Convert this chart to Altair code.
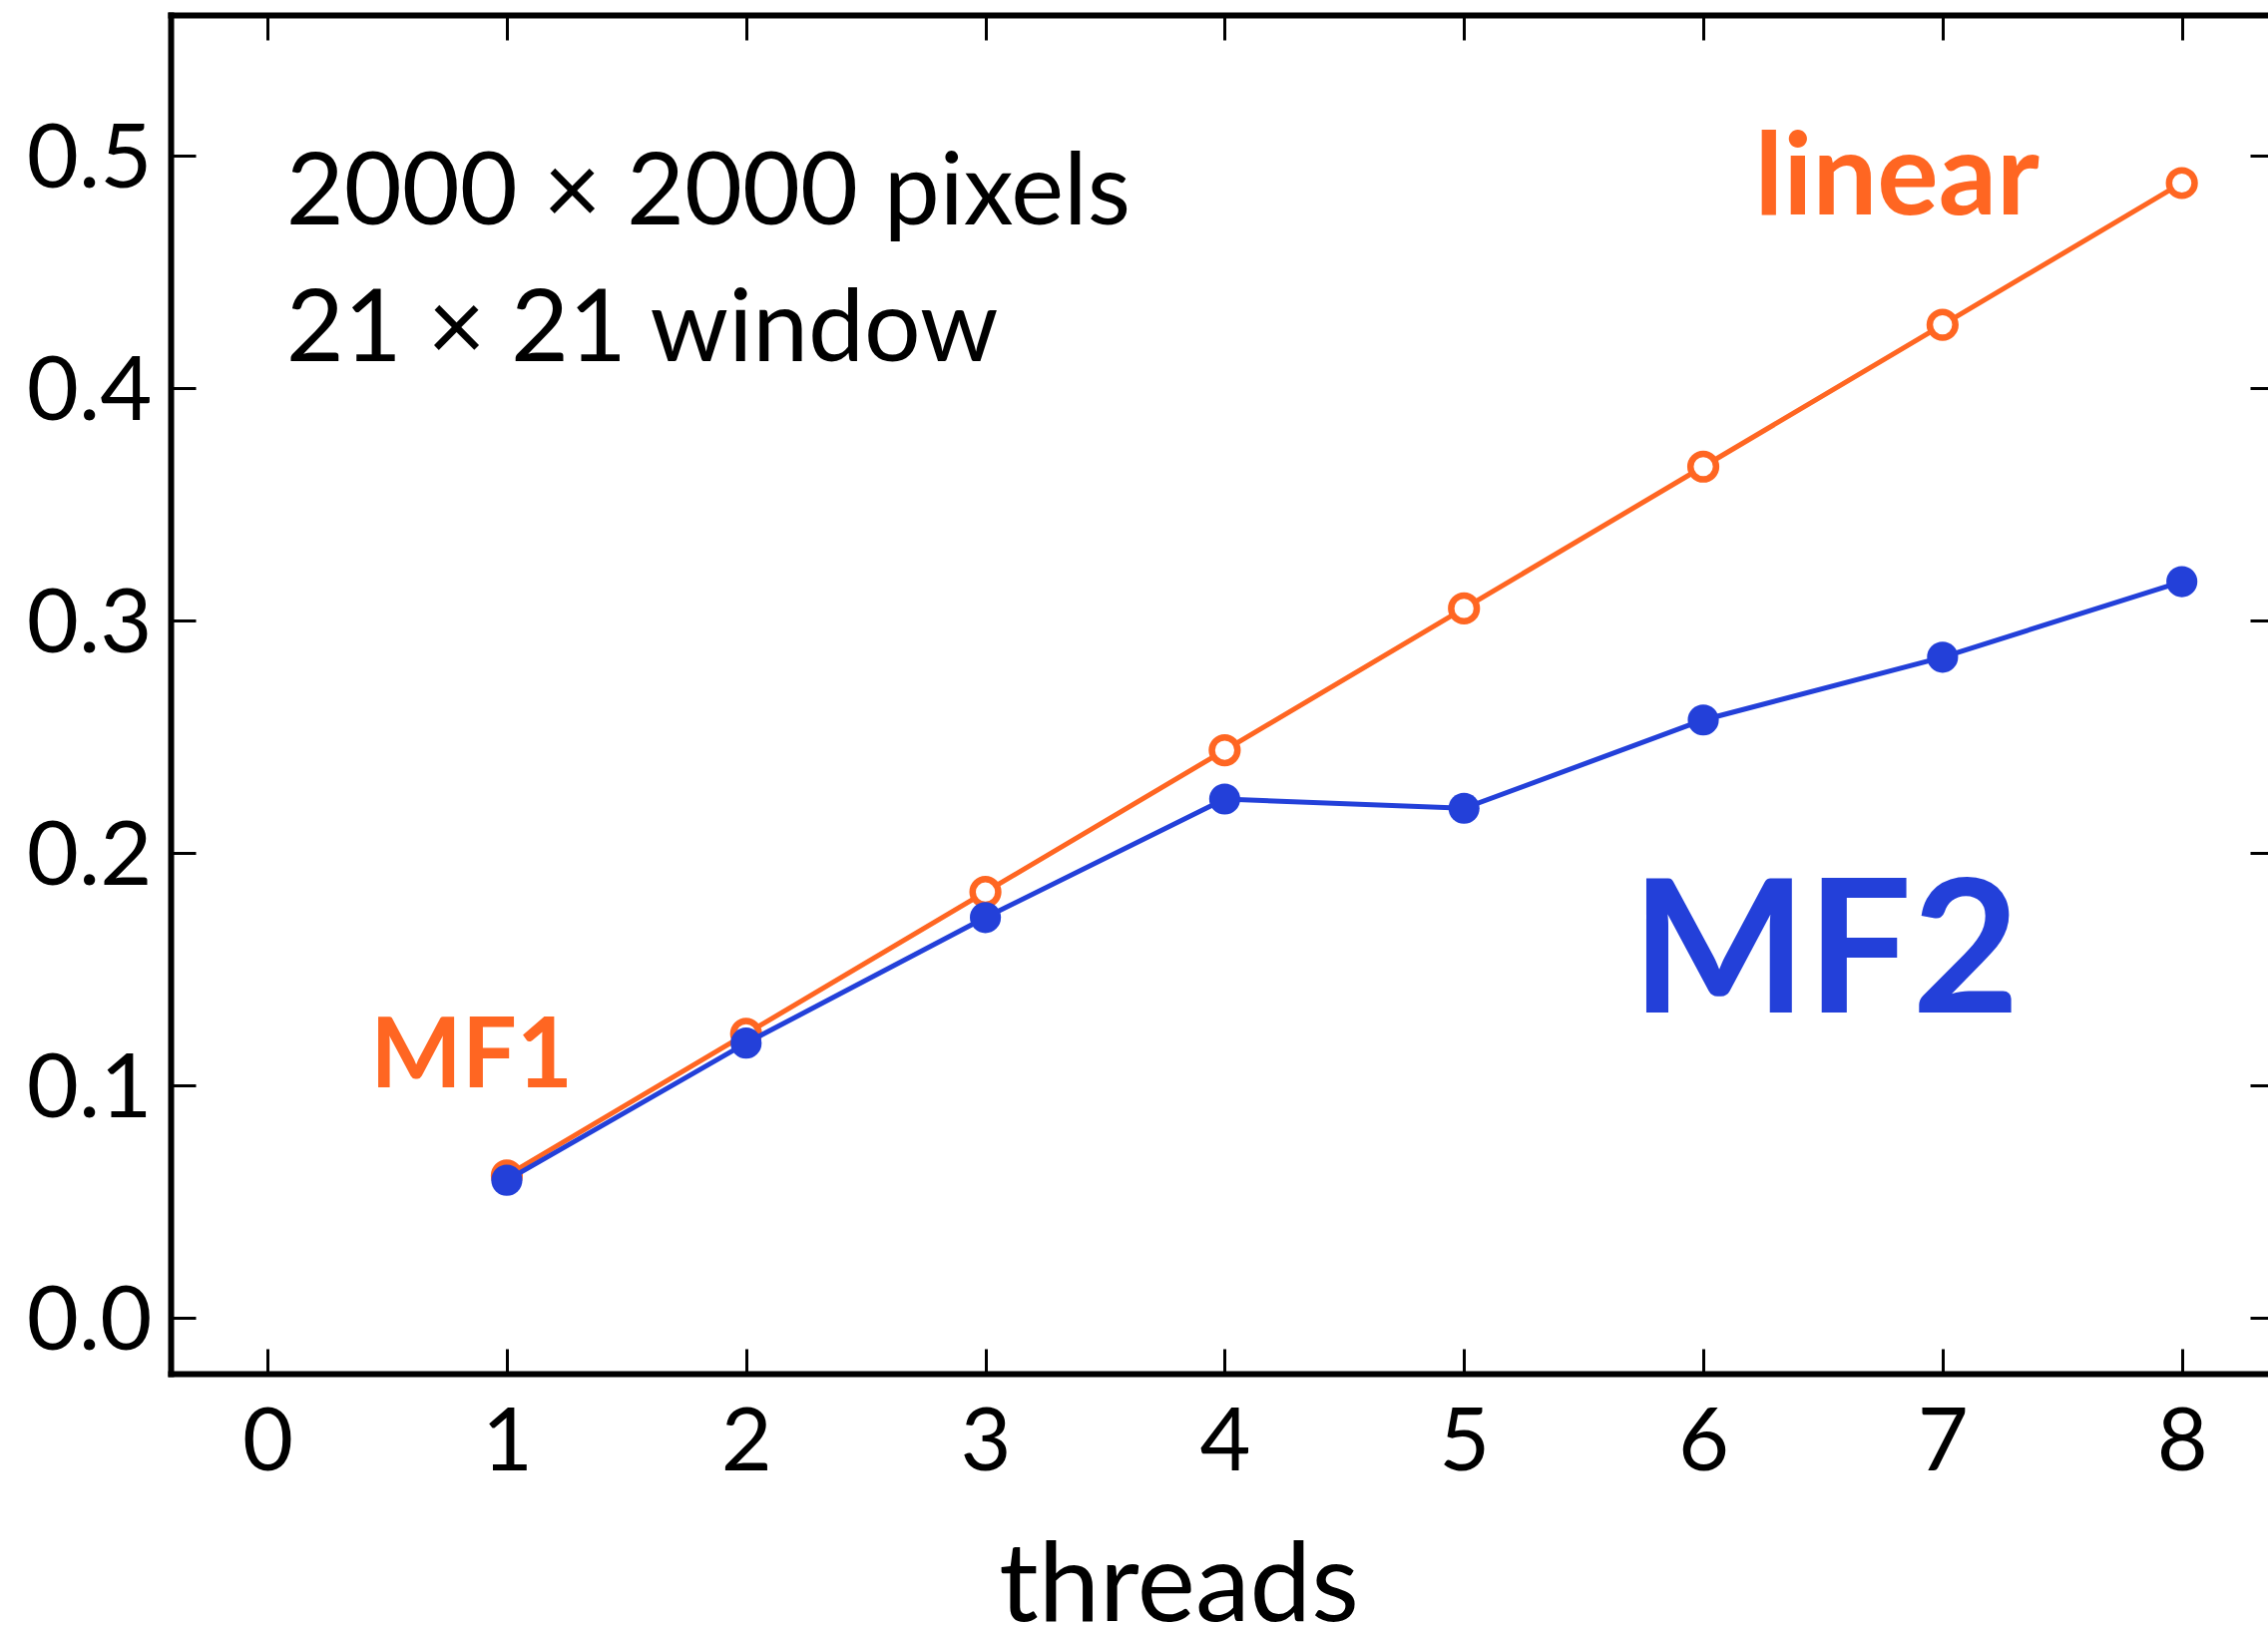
import altair as alt
import pandas as pd

# ---- data ----
threads = [1, 2, 3, 4, 5, 6, 7, 8]
linear_vals = [0.061, 0.122, 0.183, 0.244, 0.305, 0.366, 0.427, 0.488]
mf2_vals = [0.059, 0.118, 0.172, 0.223, 0.219, 0.257, 0.284, 0.3165]

x_ticks = [0, 1, 2, 3, 4, 5, 6, 7, 8]
y_ticks = [0.0, 0.1, 0.2, 0.3, 0.4, 0.5]

note_text = ["2000 × 2000 pixels", "21 × 21 window"]
note_x = [0.078, 0.078]
note_y = [0.470, 0.4112]

label_text = ["linear", "MF1", "MF2"]
label_x = [6.215, 0.43, 5.70]
label_y = [0.4745, 0.0989, 0.1311]

ORANGE = "#FF6622"
BLUE = "#2340D9"
FONT = "Lato"
label_color = [ORANGE, ORANGE, BLUE]
label_size = [115, 97, 186]

W, H = 2102, 1362
x_dom = [-0.405, 8.36]
y_dom = [-0.0242, 0.5603]

lin_df = pd.DataFrame({"threads": threads, "time": linear_vals})
mf2_df = pd.DataFrame({"threads": threads, "time": mf2_vals})
note_df = pd.DataFrame({"t": note_text, "x": note_x, "y": note_y})
lab_df = pd.DataFrame({"t": label_text, "x": label_x, "y": label_y,
                       "c": label_color, "s": label_size})


def xs():
    return alt.Scale(domain=x_dom, nice=False, zero=False)


def ys():
    return alt.Scale(domain=y_dom, nice=False, zero=False)


x_main = alt.Axis(orient="bottom", values=x_ticks, domain=True, domainWidth=6,
                  domainColor="black", domainCap="square", ticks=False, tickSize=0,
                  labels=True, labelFont=FONT, labelFontSize=88, labelColor="black",
                  labelPadding=26, labelFlush=False, labelOverlap=False, grid=False,
                  title="threads", titleFont=FONT, titleFontSize=110,
                  titleFontWeight="normal", titleColor="black", titleX=1010,
                  titleY=247, titleBaseline="alphabetic", titleAlign="center")
y_main = alt.Axis(orient="left", values=y_ticks, format=".1f", domain=True,
                  domainWidth=6, domainColor="black", domainCap="square",
                  ticks=False, tickSize=0, labelFont=FONT, labelFontSize=90,
                  labelColor="black", labelPadding=19, labelOffset=5,
                  labelFlush=False, labelOverlap=False, grid=False, title=None)

x_tk = alt.Axis(orient="bottom", values=x_ticks, domain=False, labels=False,
                ticks=True, tickSize=25, tickWidth=3, tickColor="black",
                offset=-25, title=None, grid=False)
y_tk = alt.Axis(orient="left", values=y_ticks, domain=False, labels=False,
                ticks=True, tickSize=25, tickWidth=3, tickColor="black",
                offset=-25, title=None, grid=False)

x_top = alt.Axis(orient="top", values=x_ticks, domain=True, domainWidth=6,
                 domainColor="black", domainCap="square", ticks=False,
                 labels=False, title=None, grid=False)
y_right = alt.Axis(orient="right", values=y_ticks, domain=False, labels=False,
                   ticks=True, tickSize=25, tickWidth=3, tickColor="black",
                   offset=-18, title=None, grid=False)

x_top_tk = alt.Axis(orient="top", values=x_ticks, domain=False, labels=False,
                    ticks=True, tickSize=25, tickWidth=3, tickColor="black",
                    offset=-25, title=None, grid=False)

# axis-carrying invisible layers
frame1 = alt.Chart(lin_df).mark_point(opacity=0).encode(
    x=alt.X("threads:Q", scale=xs(), axis=x_main),
    y=alt.Y("time:Q", scale=ys(), axis=y_main))
frame2 = alt.Chart(lin_df).mark_point(opacity=0).encode(
    x=alt.X("threads:Q", scale=xs(), axis=x_tk),
    y=alt.Y("time:Q", scale=ys(), axis=y_tk))
frame3 = alt.Chart(lin_df).mark_point(opacity=0).encode(
    x=alt.X("threads:Q", scale=xs(), axis=x_top),
    y=alt.Y("time:Q", scale=ys(), axis=y_right))
frame4 = alt.Chart(lin_df).mark_point(opacity=0).encode(
    x=alt.X("threads:Q", scale=xs(), axis=x_top_tk),
    y=alt.Y("time:Q", scale=ys(), axis=None))


def enc(ch):
    return ch.encode(
        x=alt.X("threads:Q", scale=xs(), axis=None),
        y=alt.Y("time:Q", scale=ys(), axis=None))


lin_line = enc(alt.Chart(lin_df).mark_line(color=ORANGE, strokeWidth=5))
lin_pts = enc(alt.Chart(lin_df).mark_circle(fill="white", stroke=ORANGE,
                                            strokeWidth=6.5, size=660, opacity=1))
mf2_line = enc(alt.Chart(mf2_df).mark_line(color=BLUE, strokeWidth=5))
mf2_pts = enc(alt.Chart(mf2_df).mark_circle(color=BLUE, size=970, opacity=1))

notes = alt.Chart(note_df).mark_text(font=FONT, fontSize=100, align="left",
                                     baseline="alphabetic", color="black").encode(
    x=alt.X("x:Q", scale=xs(), axis=None),
    y=alt.Y("y:Q", scale=ys(), axis=None),
    text="t:N")

labels = alt.Chart(lab_df).mark_text(font=FONT, fontWeight="bold", align="left",
                                     baseline="alphabetic").encode(
    x=alt.X("x:Q", scale=xs(), axis=None),
    y=alt.Y("y:Q", scale=ys(), axis=None),
    text="t:N",
    color=alt.Color("c:N", scale=None),
    size=alt.Size("s:Q", scale=None))

chart = alt.layer(
    frame1, frame2, frame3, frame4,
    lin_line, lin_pts, mf2_line, mf2_pts, notes, labels
).resolve_axis(x="independent", y="independent").properties(
    width=W, height=H,
    padding={"left": 171, "top": 15, "right": 0, "bottom": 254},
    autosize=alt.AutoSizeParams(type="none"),
    background="white",
).configure_view(stroke=None)

chart.save("out.html", embed_options={"renderer": "svg", "actions": False})
